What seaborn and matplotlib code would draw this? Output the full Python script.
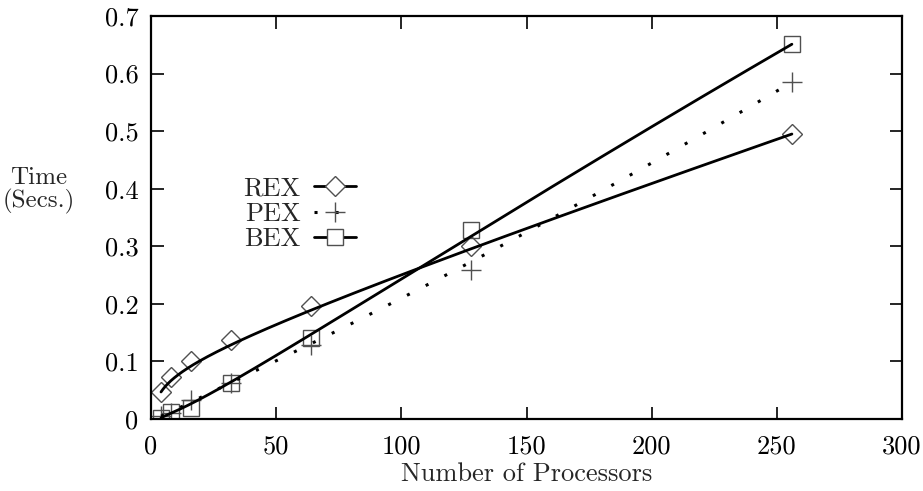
import math
import numpy as np
import matplotlib
matplotlib.use("Agg")
import matplotlib.pyplot as plt
from matplotlib.lines import Line2D
import seaborn as sns

# ── data ────────────────────────────────────────────────────────────────────
procs = [4, 8, 16, 32, 64, 128, 256]
rex = [0.047, 0.073, 0.100, 0.137, 0.196, 0.300, 0.495]
pex = [0.005, 0.010, 0.033, 0.063, 0.128, 0.258, 0.585]
bex = [0.002, 0.012, 0.020, 0.062, 0.140, 0.328, 0.651]

x_ticks = [0, 50, 100, 150, 200, 250, 300]
y_ticks = [0, 0.1, 0.2, 0.3, 0.4, 0.5, 0.6, 0.7]
y_tick_labels = ["0", "0.1", "0.2", "0.3", "0.4", "0.5", "0.6", "0.7"]


def bezier(xs, ys, n=300):
    # gnuplot-style "smooth bezier": all points are control points
    xs, ys = np.asarray(xs, float), np.asarray(ys, float)
    m = len(xs) - 1
    t = np.linspace(0, 1, n)
    w = np.array([math.comb(m, k) * t**k * (1 - t)**(m - k) for k in range(m + 1)])
    return w.T @ xs, w.T @ ys


sns.set_theme(style="ticks")
plt.rcParams['font.family'] = ['cmr10', 'DejaVu Serif']
plt.rcParams['axes.formatter.use_mathtext'] = True

FS = 19

fig = plt.figure(figsize=(9.23, 4.91), dpi=100)
ax = fig.add_axes([0.1636, 0.1466, 0.8137, 0.8208])

mec = '#505050'
lw = 2.0

series = [
    ("REX", rex, 'D', 10.0, '-'),
    ("PEX", pex, '+', 14.0, (0, (1, 5.9))),
    ("BEX", bex, 's', 12.0, '-'),
]

handles = []
for name, vals, mk, ms, ls in series:
    bx, by = bezier(procs, vals)
    sns.lineplot(x=bx, y=by, sort=False, estimator=None, color='black',
                 lw=lw if ls == '-' else 2.2, linestyle=ls, ax=ax, zorder=3)
    ax.plot(procs, vals, linestyle='none', marker=mk, ms=ms, mfc='none',
            mec=mec, mew=1.0, zorder=2)
    handles.append(Line2D([], [], color='black', lw=lw if ls == '-' else 2.2,
                          linestyle=ls, marker=mk, ms=ms, mfc='white',
                          mec=mec, mew=1.0))

ax.set_xlim(0, 300)
ax.set_ylim(0, 0.7)
ax.set_xticks(x_ticks)
ax.set_xticklabels([str(v) for v in x_ticks])
ax.set_yticks(y_ticks)
ax.set_yticklabels(y_tick_labels)
ax.tick_params(direction='in', length=9, width=1.2, labelsize=FS,
               top=True, right=True, colors='black', pad=9)
ax.tick_params(axis='x', pad=11)
for sp in ax.spines.values():
    sp.set_linewidth(1.6)
    sp.set_color('black')

ax.set_xlabel('Number of Processors', fontsize=FS)
ax.xaxis.set_label_coords(0.5, -0.136)
ax.xaxis.label.set_va('center')
ax.set_ylabel('Time\n(Secs.)', fontsize=18, rotation=0,
              ha='center', va='center', multialignment='center',
              linespacing=1.0)
ax.yaxis.set_label_coords(-0.150, 0.568)

ax.legend(handles, [s[0] for s in series], loc='center',
          bbox_to_anchor=(0.198, 0.509), frameon=False, markerfirst=False,
          fontsize=FS, handlelength=1.6, handletextpad=0.5,
          labelspacing=0.05, borderpad=0, numpoints=1)

plt.savefig('out.png', dpi=100)
